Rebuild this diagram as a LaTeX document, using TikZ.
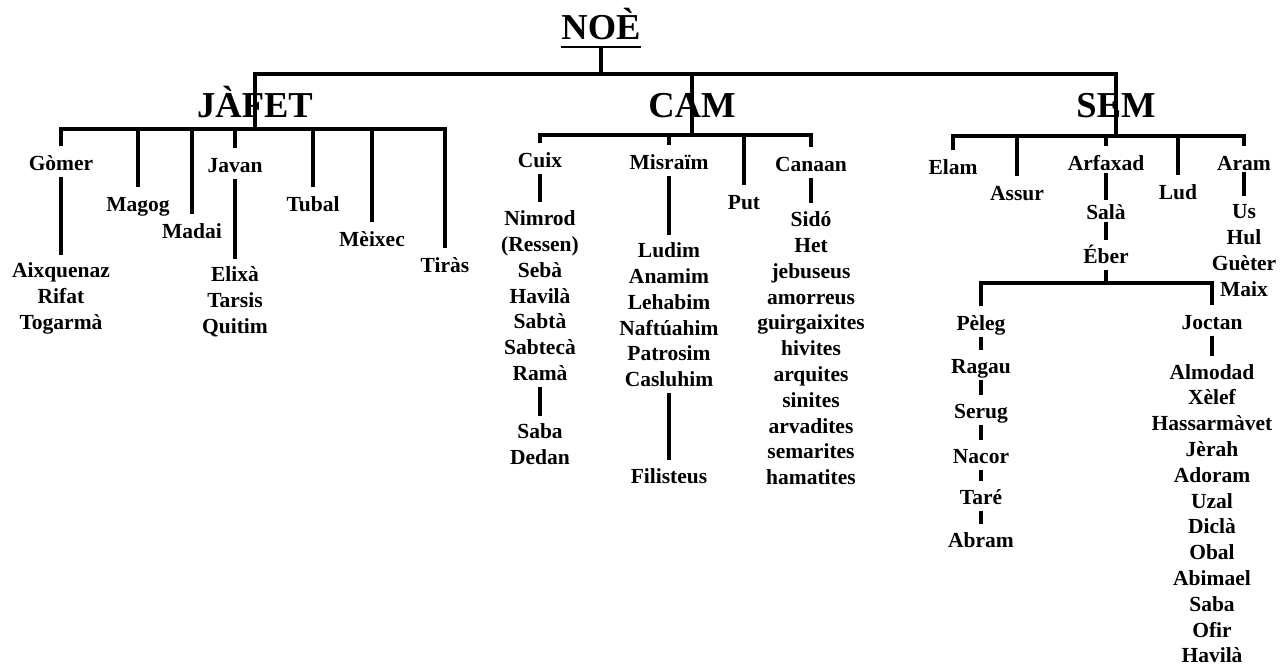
\documentclass[tikz,border=0pt]{standalone}
\usepackage{fontspec}
\setmainfont{Liberation Serif}
\newcommand{\kidfont}{\fontsize{21.5}{25.8}\selectfont\bfseries}
\newcommand{\headfont}{\fontsize{36.5}{40}\selectfont\bfseries}
\begin{document}
\begin{tikzpicture}[x=1pt,y=-1pt,
    head/.style={font=\headfont, inner sep=0pt, text height=24pt, text depth=0pt},
    kid/.style={font=\kidfont, inner sep=0pt, text height=15pt, text depth=0pt},
    kids/.style={font=\kidfont, inner sep=0pt, text depth=0pt, align=center, anchor=north},
    wire/.style={line width=3.4pt},
    drop/.style={wire, shorten >=9pt},
    link/.style={wire, shorten <=6pt, shorten >=8pt}]
    \fill[white] (0,0) rectangle (1286,666);
    \useasboundingbox (0,0) rectangle (1286,666);
    % bus heights
    \coordinate (topbus) at (0,74);
    \coordinate (jbus) at (0,129);
    \coordinate (cbus) at (0,135);
    \coordinate (sbus) at (0,136);
    \coordinate (ebus) at (0,283);

    \node[head] (noe) at (601,28) {NOÈ};
    \draw[line width=2.7pt] ([yshift=-6.7pt]noe.south west) -- ([yshift=-6.7pt]noe.south east);
    \node[head] (jafet) at (255,106) {JÀFET};
    \node[head] (cam) at (692,106) {CAM};
    \node[head] (sem) at (1116,106) {SEM};
    \draw[wire] ([yshift=-6.7pt]noe.south) -- (noe |- topbus);
    \draw[wire] (jafet |- jbus) |- (noe |- topbus) -| (sem |- sbus);
    \draw[wire] (cam |- topbus) -- (cam |- cbus);

    % Jafet
    \node[kid] (gomer) at (61,163) {Gòmer};
    \node[kid] (magog) at (138,204) {Magog};
    \node[kid] (madai) at (192,231) {Madai};
    \node[kid] (javan) at (235,165) {Javan};
    \node[kid] (tubal) at (313,204) {Tubal};
    \node[kid] (meixec) at (372,239) {Mèixec};
    \node[kid] (tiras) at (445,265) {Tiràs};
    \node[kids] (aix) at (61,262.5) {Aixquenaz\\Rifat\\Togarmà};
    \node[kids] (elixa) at (235,266.5) {Elixà\\Tarsis\\Quitim};
    \draw[wire, shorten <=9pt, shorten >=9pt] (gomer.north) |- (jafet |- jbus) -| (tiras.north);
    \foreach \k in {magog,madai,javan,tubal,meixec}
        \draw[drop] (\k |- jbus) -- (\k.north);
    \draw[link] (gomer.south) -- (aix.north);
    \draw[link] (javan.south) -- (elixa.north);

    % Cam
    \node[kid] (cuix) at (540,160) {Cuix};
    \node[kid] (misraim) at (669,162) {Misraïm};
    \node[kid] (put) at (744,202) {Put};
    \node[kid] (canaan) at (811,164) {Canaan};
    \node[kids] (nimrod) at (540,210.5) {Nimrod\\(Ressen)\\Sebà\\Havilà\\Sabtà\\Sabtecà\\Ramà};
    \node[kids] (saba) at (540,423.5) {Saba\\Dedan};
    \node[kids] (ludim) at (669,242.5) {Ludim\\Anamim\\Lehabim\\Naftúahim\\Patrosim\\Casluhim};
    \node[kid] (filisteus) at (669,476) {Filisteus};
    \node[kids] (sido) at (811,211.5) {Sidó\\Het\\jebuseus\\amorreus\\guirgaixites\\hivites\\arquites\\sinites\\arvadites\\semarites\\hamatites};
    \draw[wire, shorten <=9pt, shorten >=9pt] (cuix.north) |- (cam |- cbus) -| (canaan.north);
    \foreach \k in {misraim,put}
        \draw[drop] (\k |- cbus) -- (\k.north);
    \draw[link] (cuix.south) -- (nimrod.north);
    \draw[link] (nimrod.south) -- (saba.north);
    \draw[link] (misraim.south) -- (ludim.north);
    \draw[link] (ludim.south) -- (filisteus.north);
    \draw[link] (canaan.south) -- (sido.north);

    % Sem
    \node[kid] (elam) at (953,167) {Elam};
    \node[kid] (assur) at (1017,193) {Assur};
    \node[kid] (arfaxad) at (1106,163) {Arfaxad};
    \node[kid] (lud) at (1178,192) {Lud};
    \node[kid] (aram) at (1244,163) {Aram};
    \node[kids] (us) at (1244,204.5) {Us\\Hul\\Guèter\\Maix};
    \node[kid] (sala) at (1106,212) {Salà};
    \node[kid] (eber) at (1106,256) {Éber};
    \draw[wire, shorten <=9pt, shorten >=9pt] (elam.north) |- (sem |- sbus) -| (aram.north);
    \foreach \k in {assur,arfaxad,lud}
        \draw[drop] (\k |- sbus) -- (\k.north);
    \draw[link, shorten <=1pt] (aram.south) -- (us.north);
    \draw[link, shorten <=2pt, shorten >=4pt] (arfaxad.south) -- (sala.north);
    \draw[link, shorten <=2pt] (sala.south) -- (eber.north);

    % Eber
    \node[kid] (peleg) at (981,323) {Pèleg};
    \node[kid] (ragau) at (981,366) {Ragau};
    \node[kid] (serug) at (981,411) {Serug};
    \node[kid] (nacor) at (981,456) {Nacor};
    \node[kid] (tare) at (981,497) {Taré};
    \node[kid] (abram) at (981,540) {Abram};
    \node[kid] (joctan) at (1212,322) {Joctan};
    \node[kids] (almodad) at (1212,364) {Almodad\\Xèlef\\Hassarmàvet\\Jèrah\\Adoram\\Uzal\\Diclà\\Obal\\Abimael\\Saba\\Ofir\\Havilà};
    \draw[wire, shorten <=6pt] (eber.south) -- (eber |- ebus);
    \draw[wire, shorten <=9pt, shorten >=9pt] (peleg.north) |- (eber |- ebus) -| (joctan.north);
    \foreach \a/\b in {peleg/ragau,ragau/serug,serug/nacor,nacor/tare,tare/abram}
        \draw[link] (\a.south) -- (\b.north);
    \draw[link] (joctan.south) -- (almodad.north);
\end{tikzpicture}
\end{document}
